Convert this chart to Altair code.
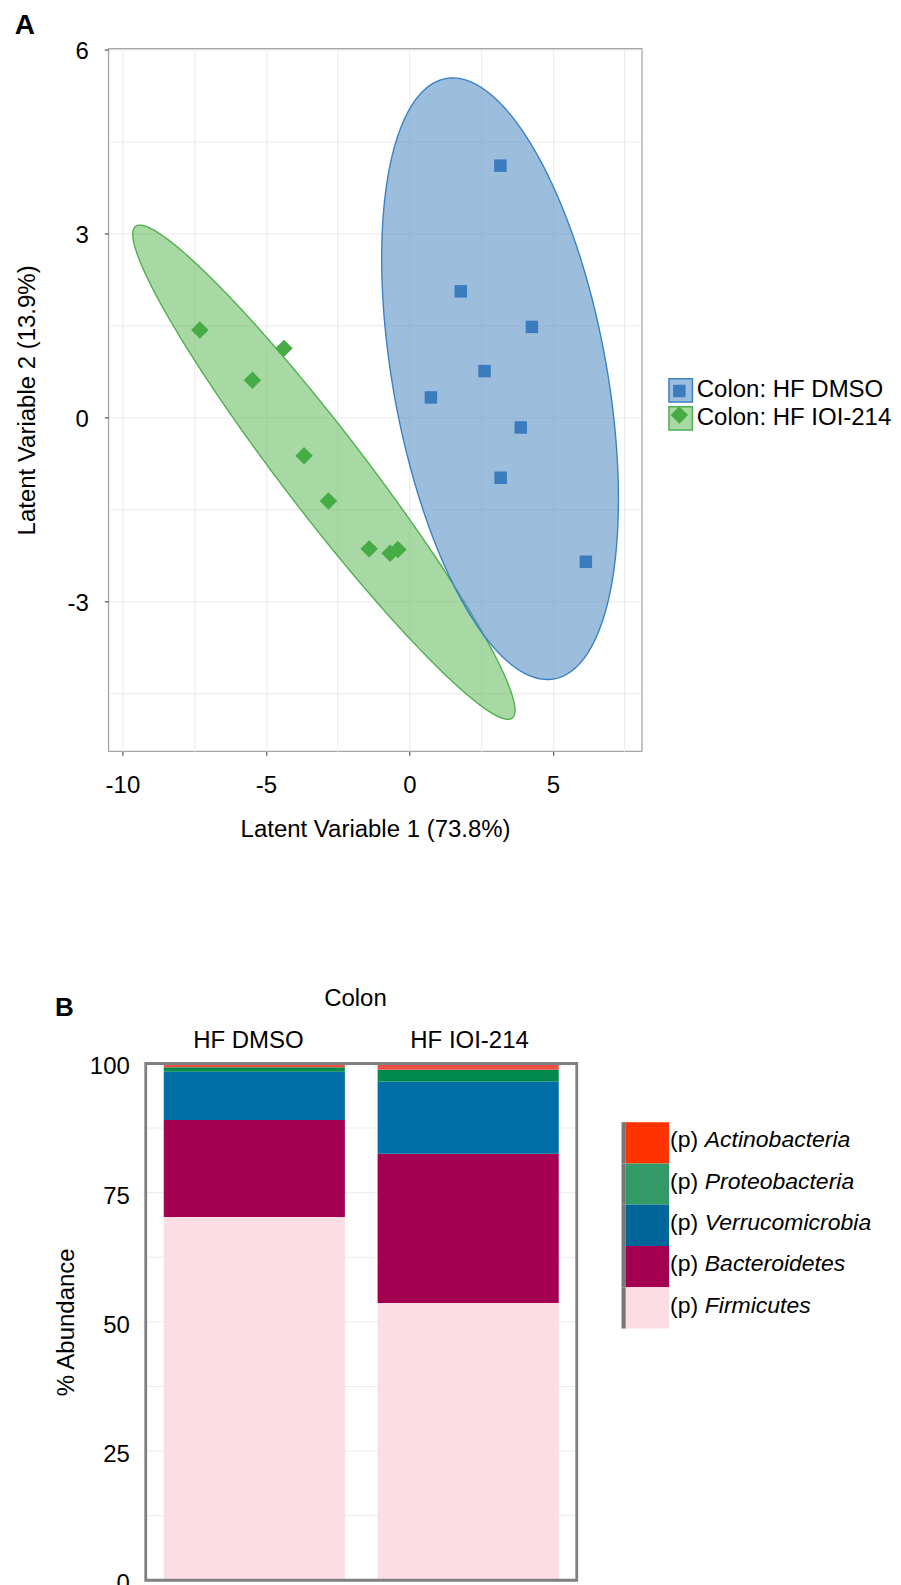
import altair as alt
import numpy as np
import pandas as pd

FONT = "Liberation Sans"

# ---------------- Panel A : latent-variable scores ----------------
group_names = ["Colon: HF DMSO", "Colon: HF IOI-214"]
dmso_lv1 = [3.17, 1.79, 4.27, 2.62, 0.75, 3.88, 3.18, 6.15]
dmso_lv2 = [4.11, 2.06, 1.48, 0.76, 0.33, -0.16, -0.98, -2.35]
ioi_lv1 = [-7.30, -4.37, -5.47, -3.67, -2.82, -1.40, -0.67, -0.40]
ioi_lv2 = [1.43, 1.13, 0.61, -0.62, -1.36, -2.14, -2.21, -2.15]

marker_colors = ["#3a7cbd", "#46ac46"]
marker_shapes = ["square", "diamond"]
marker_sizes = [156, 306]
ellipse_fill = ["#5c91c5", "#6ebe67"]
ellipse_key_fill = ["#9dbddc", "#a8d8a4"]
ellipse_stroke = ["#3b82c4", "#50b050"]

# confidence ellipses: centre, half-extent in x and y, phase cosine
ell_cx = [3.16, -2.98]
ell_cy = [0.635, -0.89]
ell_rx = [4.125, 6.66]
ell_ry = [4.905, 4.03]
ell_cos = [-0.40, -0.963]

x_grid_A = [-10, -7.5, -5, -2.5, 0, 2.5, 5, 7.5]
y_grid_A = [-4.5, -3, -1.5, 0, 1.5, 3, 4.5, 6]
x_dom_A = [-10.49, 8.10]
y_dom_A = [-5.44, 6.02]

panel_labels = ["A", "B"]

# ---------------- Panel B : phylum abundance ----------------
bar_groups = ["HF DMSO", "HF IOI-214"]
phyla = ["Firmicutes", "Bacteroidetes", "Verrucomicrobia", "Proteobacteria", "Actinobacteria"]
dmso_pct = [70.3, 18.75, 9.34, 0.89, 0.72]
ioi_pct = [53.65, 28.88, 13.99, 2.26, 1.22]
bar_colors = ["#fddde4", "#a30052", "#006fa6", "#00894a", "#ef4e45"]
legend_phyla = ["Actinobacteria", "Proteobacteria", "Verrucomicrobia", "Bacteroidetes", "Firmicutes"]
legend_colors = ["#ff3300", "#339966", "#006699", "#a30052", "#fddde4"]
legend_prefix = "(p)"
y_ticks_B = [0, 25, 50, 75, 100]
grid_B = [12.5, 25, 37.5, 50, 62.5, 75, 87.5]

# ---------------- tables ----------------
pts_df = pd.DataFrame({
    "group": [group_names[0]] * len(dmso_lv1) + [group_names[1]] * len(ioi_lv1),
    "LV1": dmso_lv1 + ioi_lv1,
    "LV2": dmso_lv2 + ioi_lv2,
})

t = np.linspace(0.0, np.pi, 361)
frames = []
for name, cx, cy, rx, ry, c in zip(group_names, ell_cx, ell_cy, ell_rx, ell_ry, ell_cos):
    d = np.arccos(c)
    frames.append(pd.DataFrame({
        "group": name,
        "LV1": cx + rx * np.cos(t),
        "LV2": cy + ry * np.cos(t - d),
        "LV2b": cy + ry * np.cos(t + d),
    }))
ell_df = pd.concat(frames, ignore_index=True)

bar_rows = []
for g, vals in zip(bar_groups, [dmso_pct, ioi_pct]):
    for i, (p, v) in enumerate(zip(phyla, vals)):
        bar_rows.append({"Group": g, "Phylum": p, "Abundance": v, "idx": i})
bar_df = pd.DataFrame(bar_rows)
grid_df = pd.DataFrame({"Abundance": grid_B})
leg_df = pd.DataFrame({"Phylum": legend_phyla})
labA_df = pd.DataFrame({"t": [panel_labels[0]]})
labB_df = pd.DataFrame({"t": [panel_labels[1]]})

# ---------------- Panel A chart ----------------
W_A, H_A = 533.7, 703
xs_A = alt.Scale(domain=x_dom_A, nice=False, zero=False)
ys_A = alt.Scale(domain=y_dom_A, nice=False, zero=False)
maj_x = "datum.value % 5 === 0"
maj_y = "datum.value % 3 === 0"
x_axis_A = alt.Axis(
    values=x_grid_A, labelExpr=f"{maj_x} ? '' + datum.value : ''",
    tickOpacity={"condition": {"test": maj_x, "value": 1}, "value": 0},
    tickSize=4, tickColor="#555555", tickWidth=1.2, domain=False,
    grid=True, gridColor="#e9e9e9", gridWidth=1,
    labelFontSize=24, labelPadding=18.4, labelFlush=False, labelOverlap=False,
    title="Latent Variable 1 (73.8%)", titleFontSize=24, titleFontWeight="normal", titlePadding=20,
)
y_axis_A = alt.Axis(
    values=y_grid_A, labelExpr=f"{maj_y} ? '' + datum.value : ''",
    tickOpacity={"condition": {"test": maj_y, "value": 1}, "value": 0},
    tickSize=4, tickColor="#555555", tickWidth=1.2, domain=False,
    grid=True, gridColor="#e9e9e9", gridWidth=1,
    labelFontSize=24, labelPadding=16, labelOffset=1.5, labelFlush=False, labelOverlap=False,
    title="Latent Variable 2 (13.9%)", titleFontSize=24, titleFontWeight="normal", titlePadding=27.7,
)
xA = alt.X("LV1:Q", scale=xs_A, axis=x_axis_A)
yA = alt.Y("LV2:Q", scale=ys_A, axis=y_axis_A)


def ellipse(i):
    return alt.Chart(ell_df).transform_filter(alt.datum.group == group_names[i]).mark_area(
        fill=ellipse_fill[i], fillOpacity=0.6, stroke=ellipse_stroke[i], strokeWidth=1.4
    ).encode(x=xA, y=yA, y2="LV2b:Q")


box_legend = alt.Legend(
    title=None, orient="none", legendX=560.1, legendY=329.5, direction="vertical",
    symbolType="square", symbolSize=552, symbolStrokeWidth=1.5, symbolOpacity=1,
    labelFontSize=24, labelColor="black", labelOffset=3.6, labelLimit=400,
    rowPadding=-5.9, padding=0, zindex=0,
)
pt_legend = alt.Legend(
    title=None, orient="none", legendX=559.25, legendY=330.6, direction="vertical",
    symbolStrokeWidth=0, symbolOpacity=1,
    labelFontSize=24, labelOpacity=0, labelLimit=400, rowPadding=0.1, padding=0, zindex=1,
)

key = alt.Chart(pts_df).mark_point(shape="square", size=4, filled=True).encode(
    x=xA, y=yA,
    fill=alt.Fill("group:N", scale=alt.Scale(range=ellipse_key_fill), legend=box_legend),
    stroke=alt.Stroke("group:N", scale=alt.Scale(range=ellipse_stroke), legend=box_legend),
)
pts = alt.Chart(pts_df).mark_point(filled=True, opacity=1).encode(
    x=xA, y=yA,
    color=alt.Color("group:N", scale=alt.Scale(domain=group_names, range=marker_colors), legend=pt_legend),
    shape=alt.Shape("group:N", scale=alt.Scale(domain=group_names, range=marker_shapes), legend=pt_legend),
    size=alt.Size("group:O", scale=alt.Scale(type="point", domain=group_names, range=marker_sizes, padding=0),
                  legend=pt_legend),
)
lab_A = alt.Chart(labA_df).mark_text(
    align="left", baseline="alphabetic", fontSize=28, fontWeight="bold", color="black"
).encode(x=alt.value(-93.6), y=alt.value(-14.4), text="t:N")

panel_A = alt.layer(ellipse(1), ellipse(0), key, pts, lab_A).properties(
    width=W_A, height=H_A, view=alt.ViewBackground(stroke="#a6a6a6", strokeWidth=1.3)
)

# ---------------- Panel B chart ----------------
W_B, H_B = 468, 517
FL, FR = 37.4, 468.6
ys_B = alt.Scale(domain=[0, 100], nice=False)
x_B = alt.X(
    "Group:N", sort=bar_groups,
    scale=alt.Scale(range=[FL, FR], paddingInner=0.153, paddingOuter=0.0842),
    axis=alt.Axis(orient="top", title="Colon", titleX=246.7, ticks=False, domain=False, labelAngle=0,
                  labelOffset={"condition": {"test": f"datum.value === '{bar_groups[0]}'", "value": -5.9},
                               "value": 1.4},
                  labelFontSize=24, labelPadding=11.3, titleFontSize=24, titleFontWeight="normal",
                  titlePadding=18),
)
y_axis_B = alt.Axis(values=y_ticks_B, ticks=False, domain=False, grid=False,
                    labelFontSize=24, labelPadding=16.4, labelOffset=3.5, offset=-FL,
                    title="% Abundance", titleFontSize=24, titleFontWeight="normal", titlePadding=11)
rules = alt.Chart(grid_df).mark_rule(color="#ebebeb", strokeWidth=1).encode(
    y=alt.Y("Abundance:Q", scale=ys_B, axis=y_axis_B), x=alt.value(FL), x2=alt.value(FR)
)
bars = alt.Chart(bar_df).mark_bar().encode(
    x=x_B, y=alt.Y("Abundance:Q", stack="zero", scale=ys_B, axis=y_axis_B),
    color=alt.Color("Phylum:N", scale=alt.Scale(domain=phyla, range=bar_colors), legend=None),
    order=alt.Order("idx:Q", sort="ascending"),
)
frame = alt.Chart(labB_df).mark_rect(fillOpacity=0, stroke="#808080", strokeWidth=2.8).encode(
    x=alt.value(FL), x2=alt.value(FR), y=alt.value(0), y2=alt.value(H_B)
)
lab_B = alt.Chart(labB_df).mark_text(
    align="left", baseline="alphabetic", fontSize=26, fontWeight="bold", color="black"
).encode(x=alt.value(-53.3), y=alt.value(-47), text="t:N")

B_main = alt.layer(rules, bars, frame, lab_B).properties(width=W_B, height=H_B)

# legend view (placed to the right of the bars)
LEG_TOP, LEG_ROW = 58.7, 41.3
leg_y = alt.Y("Phylum:N", sort=legend_phyla,
              scale=alt.Scale(type="band", domain=legend_phyla, range=[LEG_TOP, LEG_TOP + 5 * LEG_ROW],
                              paddingInner=0, paddingOuter=0),
              axis=None)
leg_bar = alt.Chart(leg_df).mark_rect(color="#777777").encode(
    y=leg_y, x=alt.value(0), x2=alt.value(4.3)
)
leg_sw = alt.Chart(leg_df).mark_rect().encode(
    y=leg_y, x=alt.value(4.3), x2=alt.value(47.6),
    fill=alt.Fill("Phylum:N", scale=alt.Scale(domain=legend_phyla, range=legend_colors), legend=None),
)
leg_p = alt.Chart(leg_df).mark_text(
    text=legend_prefix, align="left", baseline="middle", fontSize=23, color="black", dy=-2.4
).encode(y=leg_y, x=alt.value(48.6))
leg_nm = alt.Chart(leg_df).mark_text(
    align="left", baseline="middle", fontSize=23, fontStyle="italic", color="black", dy=-2.4
).encode(y=leg_y, x=alt.value(83.3), text="Phylum:N")
B_leg = alt.layer(leg_bar, leg_sw, leg_p, leg_nm).properties(width=10, height=H_B)

panel_B = alt.hconcat(B_main, B_leg, spacing=43.4)

chart = alt.vconcat(panel_A, panel_B, spacing=142.4).resolve_scale(
    color="independent", fill="independent", stroke="independent", shape="independent", size="independent"
).properties(
    padding={"left": 5.4, "top": 2.2, "right": 0, "bottom": 0}
).configure(font=FONT).configure_view(strokeWidth=0).configure_axis(
    labelColor="black", titleColor="black", labelFont=FONT, titleFont=FONT
).configure_legend(labelFont=FONT)

chart.save("out.html", embed_options={"renderer": "svg", "actions": False})
